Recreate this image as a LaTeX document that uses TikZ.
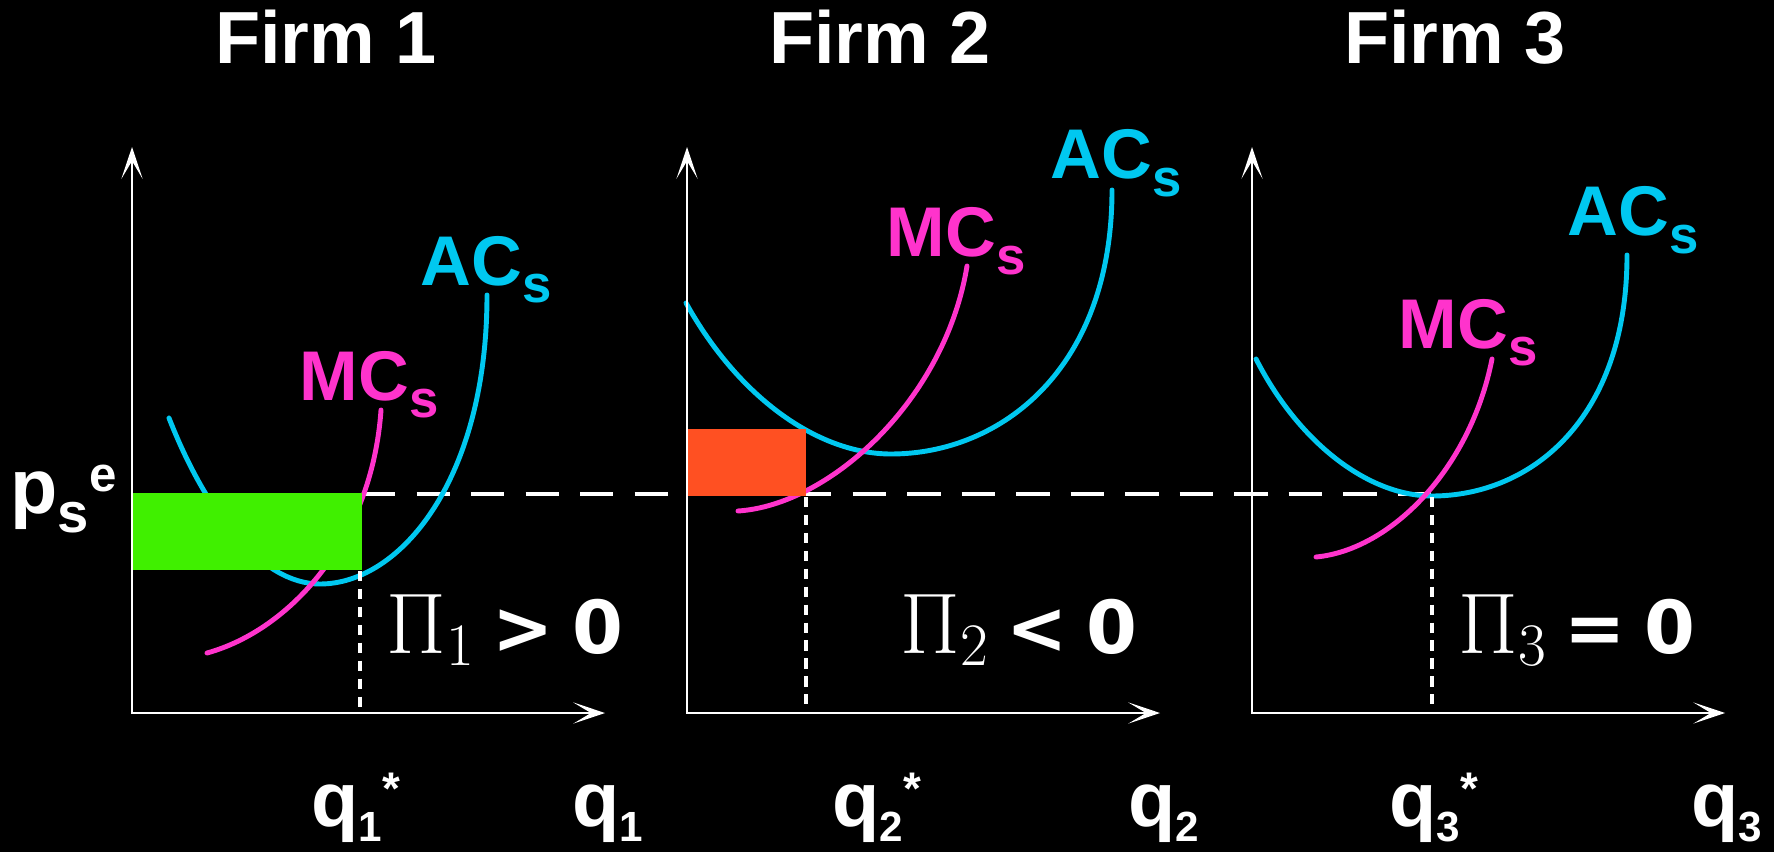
\RequirePackage{fix-cm}
\documentclass[tikz,border=0pt]{standalone}
\usepackage[no-math]{fontspec}
\setmainfont{Liberation Sans}
\newfontfamily\widesans{DejaVu Sans}
\usepackage{tikz}
\usetikzlibrary{arrows.meta,positioning}

\definecolor{accyan}{RGB}{0,200,240}
\definecolor{mcpink}{RGB}{255,51,204}
\definecolor{profgreen}{RGB}{64,240,0}
\definecolor{lossred}{RGB}{255,80,34}

\newcommand\shifttxt[3]{\raisebox{#2}{\fontsize{#1}{#1}\selectfont #3}}
\newcommand\subtxt[1]{\shifttxt{15}{-5pt}{#1}}
\newcommand\qstar[1]{q\shifttxt{12}{-4.5pt}{#1}\shifttxt{13}{6pt}{*}}
\newcommand\qsub[1]{q\shifttxt{12}{-4.5pt}{#1}}
\newcommand\profit[2]{{\fontsize{24.5}{28}\selectfont$\Pi_{#1}$}\hspace{4.8pt}#2\hspace{5.3pt}0}

\tikzset{
  axis/.style={white, line width=0.8pt,
    {Stealth[length=9pt,width=6pt,inset=5pt]}-{Stealth[length=9pt,width=6pt,inset=5pt]}},
  accurve/.style={accyan, line width=1.4pt, line cap=round},
  mccurve/.style={mcpink, line width=1.4pt, line cap=round},
  pricedash/.style={white, line width=1.1pt, dash pattern=on 9.5pt off 6pt},
  qdots/.style={white, line width=0.9pt, dash pattern=on 2.9pt off 2.2pt},
  firmtitle/.style={white, inner sep=0pt, anchor=base, font=\fontsize{21}{21}\selectfont\bfseries},
  curvelbl/.style={inner sep=0pt, anchor=base west, font=\fontsize{20}{20}\selectfont\bfseries},
  qlbl/.style={white, inner sep=0pt, anchor=base west, font=\fontsize{22}{22}\selectfont\bfseries},
  pilbl/.style={white, inner sep=0pt, anchor=base west, font=\widesans\fontsize{20.8}{24}\selectfont\bfseries},
}

\begin{document}
\begin{tikzpicture}[x=0.01cm, y=-0.01cm]

  \fill[black] (0,0) rectangle (1774,852);
  \useasboundingbox (0,0) rectangle (1774,852);

  % axes corners
  \coordinate (o1) at (132,713);  \coordinate (y1) at (132,147);  \coordinate (x1) at (605,713);
  \coordinate (o2) at (687,713);  \coordinate (y2) at (687,147);  \coordinate (x2) at (1160,713);
  \coordinate (o3) at (1252,713); \coordinate (y3) at (1252,147); \coordinate (x3) at (1725,713);

  % market price line
  \coordinate (pe1) at (362,494);
  \coordinate (pe3) at (1436,494);
  \draw[pricedash] (pe1) -- (pe3);

  % Firm 1
  \draw[accurve] (169,418) .. controls (205,510) and (260,584) .. (320,584)
                           .. controls (400,584) and (487,480) .. (487,295);
  \draw[mccurve] (207,653) .. controls (290,630) and (372,540) .. (381,410);
  \fill[profgreen] (133,493) rectangle (362,570);
  \draw[qdots] (360,571) -- (360,713);

  % Firm 2
  \draw[accurve] (686,303) .. controls (740,400) and (820,454) .. (891,454)
                           .. controls (1000,454) and (1112,370) .. (1112,190);
  \draw[mccurve] (738,511) .. controls (830,505) and (945,400) .. (967,266);
  \fill[lossred] (686,429) rectangle (806,496);
  \draw[qdots] (806,497) -- (806,713);

  % Firm 3
  \draw[accurve] (1256,359) .. controls (1300,445) and (1370,496) .. (1432,496)
                            .. controls (1530,496) and (1627,420) .. (1627,255);
  \draw[mccurve] (1316,557) .. controls (1390,550) and (1470,470) .. (1492,359);
  \draw[qdots] (1432,497) -- (1432,713);

  \draw[axis] (y1) -- (o1) -- (x1);
  \draw[axis] (y2) -- (o2) -- (x2);
  \draw[axis] (y3) -- (o3) -- (x3);

  % labels
  \node[firmtitle] (firm1) at (326,64)  {Firm 1};
  \node[firmtitle] (firm2) at (880,64)  {Firm 2};
  \node[firmtitle] (firm3) at (1455,64) {Firm 3};

  \node[qlbl] (pse) at (10,513) {p\shifttxt{16}{-5.5pt}{s}\shifttxt{14}{6pt}{e}};

  \node[curvelbl, accyan] (acs1) at (420,285)  {AC\subtxt{s}};
  \node[curvelbl, mcpink] (mcs1) at (299,400)  {MC\subtxt{s}};
  \node[curvelbl, accyan] (acs2) at (1050,179) {AC\subtxt{s}};
  \node[curvelbl, mcpink] (mcs2) at (886,257)  {MC\subtxt{s}};
  \node[curvelbl, accyan] (acs3) at (1567,236) {AC\subtxt{s}};
  \node[curvelbl, mcpink] (mcs3) at (1398,348) {MC\subtxt{s}};

  \node[pilbl] (pi1) at (386,653)  {\profit{1}{>}};
  \node[pilbl] (pi2) at (900,653)  {\profit{2}{<}};
  \node[pilbl] (pi3) at (1458,653) {\profit{3}{=}};

  \node[qlbl] (qstar1) at (311,826)  {\qstar{1}};
  \node[qlbl] (qax1)   at (572,826)  {\qsub{1}};
  \node[qlbl] (qstar2) at (832,826)  {\qstar{2}};
  \node[qlbl] (qax2)   at (1128,826) {\qsub{2}};
  \node[qlbl] (qstar3) at (1389,826) {\qstar{3}};
  \node[qlbl] (qax3)   at (1691,826) {\qsub{3}};

\end{tikzpicture}
\end{document}
